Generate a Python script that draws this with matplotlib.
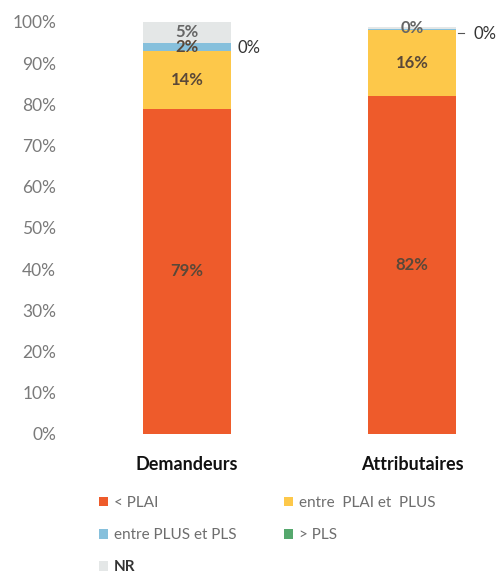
import matplotlib.pyplot as plt
import numpy as np

plt.rcParams['font.family'] = ['Lato', 'DejaVu Sans']

groups = ['Demandeurs', 'Attributaires']
series = ['< PLAI', 'entre  PLAI et  PLUS', 'entre PLUS et PLS', '> PLS', 'NR']
values = [
    [79, 82],      # < PLAI
    [14, 16],      # entre PLAI et PLUS
    [2, 0.4],      # entre PLUS et PLS
    [0, 0],        # > PLS
    [5, 0.4],      # NR
]
colors = ['#EE5B2B', '#FDC84A', '#86C0DC', '#55A86D', '#E4E7E7']
yticks = [0, 10, 20, 30, 40, 50, 60, 70, 80, 90, 100]

fig = plt.figure(figsize=(4.99, 5.76), dpi=100)
ax = fig.add_axes([70 / 499, 142 / 576, 420 / 499, 412 / 576])

x = np.arange(len(groups))
width = 0.39
bottom = np.zeros(len(groups))
handles = []
for i, (name, vals) in enumerate(zip(series, values)):
    vals = np.array(vals, dtype=float)
    bars = ax.bar(x, vals, width, bottom=bottom, color=colors[i], label=name)
    handles.append(bars)
    for j, v in enumerate(vals):
        if name == '> PLS':
            # zero-height segment: label outside the bar
            ax.text(x[j] + width / 2 + 0.03 + 0.05 * j, bottom[j] + v - 1.2, '%d%%' % round(v),
                    ha='left', va='center', fontsize=12, color='#333333')
        elif name == 'entre PLUS et PLS' and j == 1:
            pass
        else:
            ax.text(x[j], bottom[j] + v / 2, '%d%%' % round(v), ha='center', va='center',
                    fontsize=12, fontweight='bold', color='#5A4838' if i != 4 else '#666666')
    bottom += vals

# small leader mark next to the second bar
ax.plot([x[1] + width / 2 + 0.01, x[1] + width / 2 + 0.035], [97.4, 97.4], color='#555555', lw=0.8)

ax.set_xlim(-(187 - 70) / 225, (490 - 187) / 225)
ax.set_ylim(0, 100)
ax.set_yticks(yticks)
ax.set_yticklabels(['%d%%' % t for t in yticks], fontsize=12.5, color='#7A7A7A')
ax.set_xticks(x)
ax.set_xticklabels(groups, fontsize=13, fontweight='bold', color='#111111')
ax.tick_params(axis='both', length=0, pad=10)
ax.tick_params(axis='x', pad=16)
for s in ax.spines.values():
    s.set_visible(False)

# legend filled column by column, so reorder to read row by row
order = [0, 2, 4, 1, 3]
leg = fig.legend(handles=[handles[k] for k in order], labels=[series[k] for k in order],
                 ncol=2, loc='upper left',
                 bbox_to_anchor=(85 / 499, 1 - 482 / 576), frameon=False,
                 fontsize=11, handlelength=0.6, handleheight=0.6, handletextpad=0.4,
                 labelspacing=1.2, columnspacing=3.1)
for t in leg.get_texts():
    t.set_color('#6E6E6E')
leg.get_texts()[2].set_color('#333333')
leg.get_texts()[2].set_fontweight('bold')

fig.savefig('out.png', dpi=100)
